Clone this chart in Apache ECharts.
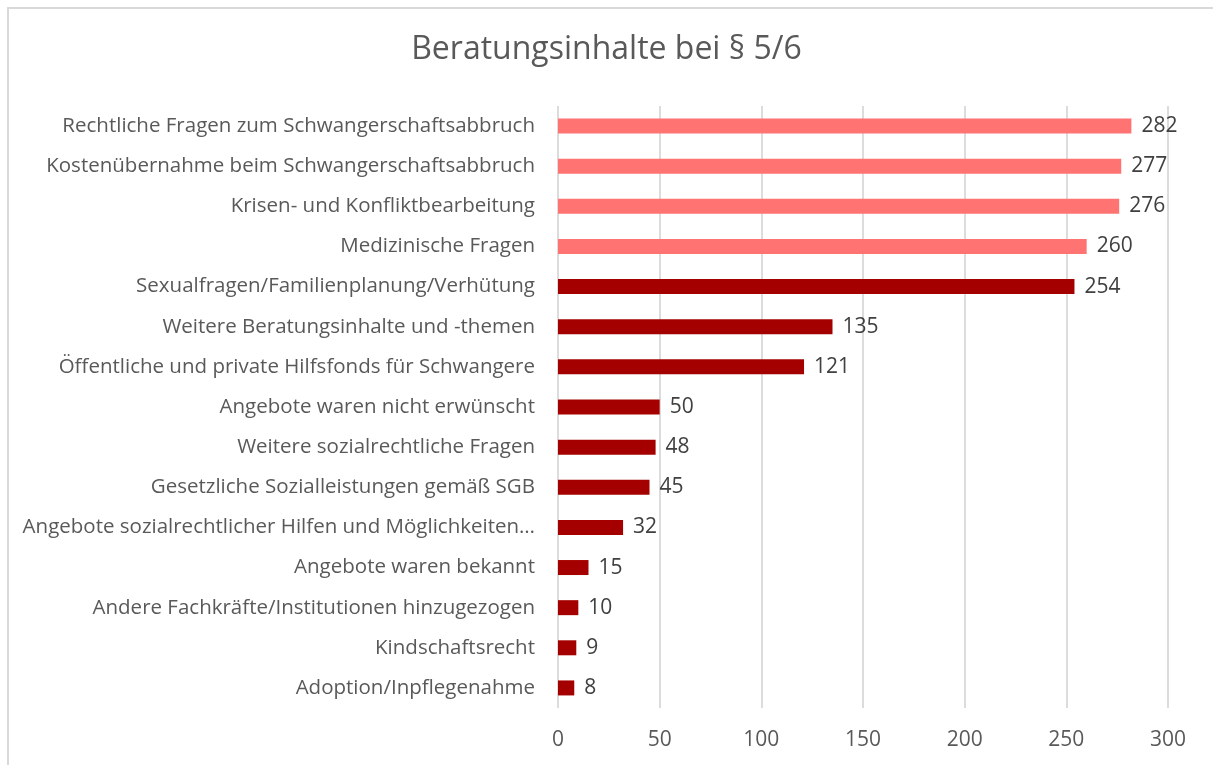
<!DOCTYPE html>
<html>
<head>
<meta charset="utf-8">
<script src="https://cdn.jsdelivr.net/npm/echarts@6/dist/echarts.min.js"></script>
<style>
  html, body { margin: 0; padding: 0; background: #fff; }
  #chart { width: 1213px; height: 765px; }
  .frame {
    position: absolute; left: 7px; top: 7px; width: 1220px; height: 780px;
    border: 2px solid #d9d9d9; box-sizing: border-box; pointer-events: none;
  }
</style>
</head>
<body>
<div id="chart"></div>
<div class="frame"></div>
<script>
// Beratungsinhalte, von oben nach unten
const categories = [
  'Rechtliche Fragen zum Schwangerschaftsabbruch',
  'Kostenübernahme beim Schwangerschaftsabbruch',
  'Krisen- und Konfliktbearbeitung',
  'Medizinische Fragen',
  'Sexualfragen/Familienplanung/Verhütung',
  'Weitere Beratungsinhalte und -themen',
  'Öffentliche und private Hilfsfonds für Schwangere',
  'Angebote waren nicht erwünscht',
  'Weitere sozialrechtliche Fragen',
  'Gesetzliche Sozialleistungen gemäß SGB',
  'Angebote sozialrechtlicher Hilfen und Möglichkeiten…',
  'Angebote waren bekannt',
  'Andere Fachkräfte/Institutionen hinzugezogen',
  'Kindschaftsrecht',
  'Adoption/Inpflegenahme'
]
const values = [282, 277, 276, 260, 254, 135, 121, 50, 48, 45, 32, 15, 10, 9, 8]
// die ersten vier Balken sind hell hervorgehoben
const highlightCount = 4

const lightRed = '#FF7373'
const darkRed = '#A50000'
const textColor = '#595959'
const fontFamily = '"Open Sans", "Noto Sans", sans-serif'

const chart = echarts.init(document.getElementById('chart'))

chart.setOption({
  animation: false,
  title: {
    text: 'Beratungsinhalte bei § 5/6',
    left: 'center',
    top: 29,
    textStyle: {
      color: textColor,
      fontSize: 32,
      fontWeight: 'normal',
      fontFamily
    }
  },
  grid: {
    left: 558,
    right: 45,
    top: 106,
    bottom: 57
  },
  xAxis: {
    type: 'value',
    min: 0,
    max: 300,
    interval: 50,
    axisLine: { show: false },
    axisTick: { show: false },
    axisLabel: {
      color: textColor,
      fontSize: 21,
      fontFamily,
      margin: 22
    },
    splitLine: {
      lineStyle: { color: '#dcdcdc', width: 2 }
    }
  },
  yAxis: {
    type: 'category',
    inverse: true,
    data: categories,
    axisLine: { show: false },
    axisTick: { show: false },
    axisLabel: {
      color: textColor,
      fontSize: 20.5,
      fontFamily,
      margin: 23
    }
  },
  series: [{
    type: 'bar',
    barWidth: 15,
    data: values.map((v, i) => ({
      value: v,
      itemStyle: { color: i < highlightCount ? lightRed : darkRed }
    })),
    label: {
      show: true,
      position: 'right',
      distance: 10,
      color: '#404040',
      fontSize: 21,
      fontFamily
    }
  }]
})
</script>
</body>
</html>
